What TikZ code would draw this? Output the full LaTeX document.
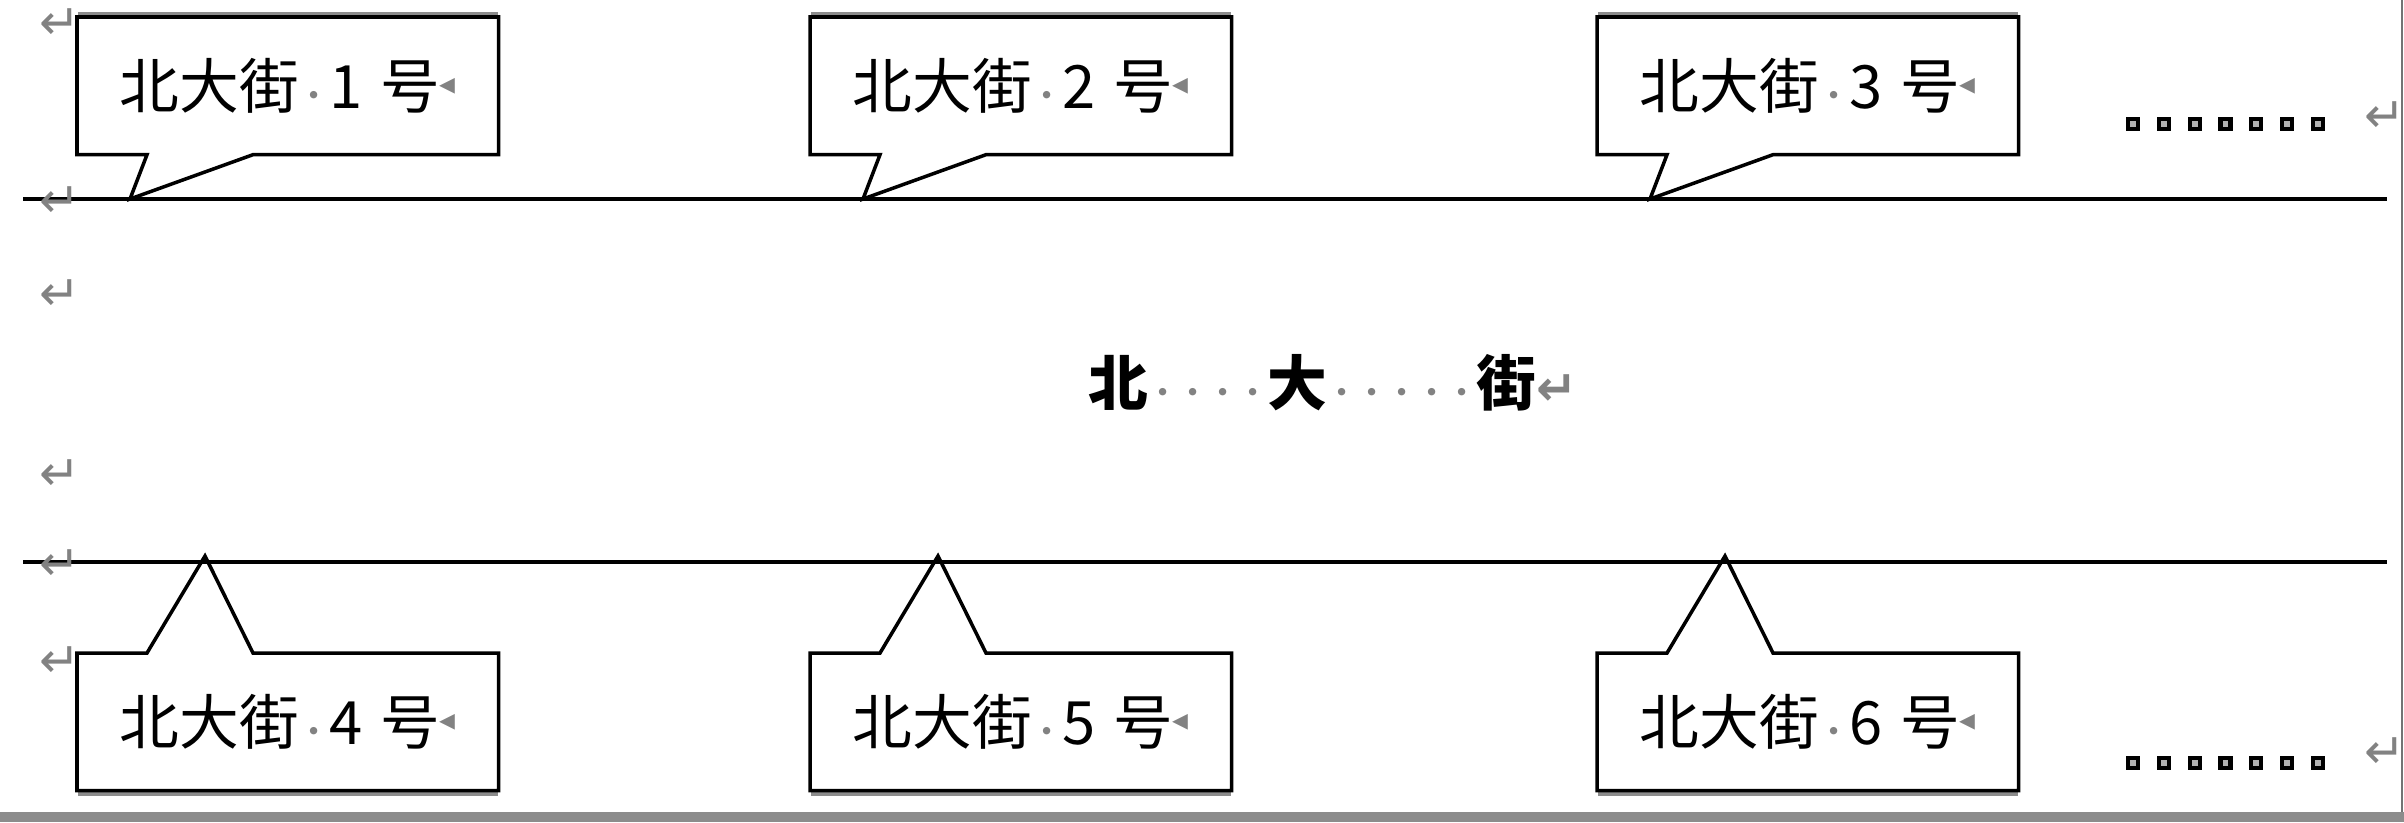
\documentclass[tikz,border=0pt]{standalone}
\usepackage{fontspec}
\usepackage{xcolor}
\usetikzlibrary{calc, positioning}

\newfontfamily\cjk{Noto Sans CJK SC}
\newfontfamily\sym{DejaVu Sans}
\definecolor{markgray}{RGB}{130,130,130}
\newcommand{\spmark}{\makebox[0.5em]{\fontsize{20}{20}\selectfont\mdseries\textcolor{markgray}{·}}}
\newcommand{\tailmark}{{\sym\fontsize{18}{18}\selectfont\raisebox{0.45em}{\textcolor{markgray}{◂}}}}
\newcommand{\parmark}{{\sym\fontsize{28}{28}\selectfont\textcolor{markgray}{↵}}}
\newcommand{\addr}[1]{北大街\spmark#1\hspace{0.3em}号\tailmark}

\begin{document}
\begin{tikzpicture}[x=0.02cm, y=-0.02cm, font=\cjk\fontsize{34}{40}\selectfont,
    addrbox/.style={minimum width=8.42cm, minimum height=2.74cm, inner sep=0pt, anchor=north west},
    callout/.style={draw=black, line width=2pt, line join=miter},
    shade/.style={draw=black!45, line width=2.6pt},
    street/.style={line width=2.2pt},
    dotsq/.style={draw=black, fill=black!30, line width=2.4pt},
    pmark/.style={inner sep=0pt}]
    \useasboundingbox (0,0) rectangle (2404,822);

    % 街道两边
    \coordinate (l1) at (23,199);
    \coordinate (r1) at (2387,199);
    \coordinate (l2) at (23,562);
    \coordinate (r2) at (2387,562);
    \draw[street] (l1) -- (r1);
    \draw[street] (l2) -- (r2);

    % 上排门牌
    \foreach \n/\x in {1/77, 2/810, 3/1597} {
        \node[addrbox] (b\n) at (\x,17) {\addr{\n}};
        \coordinate (t\n) at (\x+53,199);
        \draw[shade] ($(b\n.north west)+(1,-3)$) -- ($(b\n.north east)+(-1,-3)$);
        \draw[callout] (b\n.north west) -- (b\n.north east) -- (b\n.south east)
            -- ($(b\n.south west)+(176,0)$) -- (t\n) -- ($(b\n.south west)+(70,0)$)
            -- (b\n.south west) -- cycle;
    }

    % 下排门牌
    \foreach \n/\x in {4/77, 5/810, 6/1597} {
        \node[addrbox] (b\n) at (\x,653) {\addr{\n}};
        \coordinate (t\n) at (\x+128,556);
        \draw[shade] ($(b\n.south west)+(1,3)$) -- ($(b\n.south east)+(-1,3)$);
        \draw[callout] (b\n.south west) -- (b\n.south east) -- (b\n.north east)
            -- ($(b\n.north west)+(176,0)$) -- (t\n) -- ($(b\n.north west)+(70,0)$)
            -- (b\n.north west) -- cycle;
    }

    % 街名
    \node[anchor=west, inner sep=0pt, font=\cjk\bfseries\fontsize{34}{40}\selectfont] (title) at (1088,383)
        {北\spmark\spmark\spmark\spmark 大\spmark\spmark\spmark\spmark\spmark 街\parmark};

    % 省略号
    \foreach \y in {124, 763}
        \foreach \i in {0,...,6}
            \draw[dotsq] (2128+30.8*\i,\y-5) rectangle ++(10,10);

    % 段落标记
    \foreach \y [count=\k] in {24, 202, 295, 475, 565, 662}
        \node[pmark] (p\k) at (60,\y) {\parmark};
    \node[pmark] (q1) at (2385,117) {\parmark};
    \node[pmark] (q2) at (2385,753) {\parmark};

    % 底边
    \fill[black!45] (0,812) rectangle (2404,822);
    \draw[black!55, line width=1.2pt] (2402,0) -- (2402,812);
\end{tikzpicture}
\end{document}
